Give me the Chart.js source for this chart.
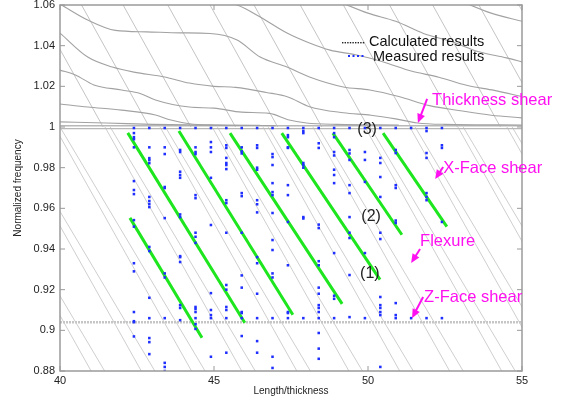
<!DOCTYPE html>
<html>
<head>
<meta charset="utf-8">
<script src="https://cdn.jsdelivr.net/npm/chart.js@4.4.1/dist/chart.umd.min.js"></script>
<style>
  html, body { margin: 0; padding: 0; background: #fff; }
  #wrap { width: 572px; height: 405px; }
</style>
</head>
<body>
<div id="wrap"><canvas id="freqChart" width="572" height="405"></canvas></div>
<script>
// Measured results: one column of points per length/thickness ratio
var measuredX = [42.4, 42.9, 43.4, 43.9, 44.4, 44.9, 45.4, 45.9, 46.4, 46.9, 47.4,
                 47.9, 48.4, 48.9, 49.4, 49.9, 50.4, 50.9, 51.4, 51.9, 52.4];
var measuredY = [
    [0.9995, 0.997, 0.995, 0.994, 0.990, 0.9734, 0.969, 0.967, 0.9542, 0.951, 0.933, 0.929, 0.909, 0.9045, 0.904, 0.897],
    [0.9995, 0.990, 0.9847, 0.9837, 0.9822, 0.9656, 0.9636, 0.9621, 0.9606, 0.941, 0.939, 0.916, 0.906, 0.8962, 0.8942, 0.8883],
    [0.9995, 0.990, 0.9867, 0.9705, 0.970, 0.9552, 0.928, 0.926, 0.906, 0.884, 0.882, 0.880],
    [0.9995, 0.9887, 0.9877, 0.978, 0.9764, 0.975, 0.957, 0.9557, 0.9365, 0.936, 0.9336, 0.9124, 0.911, 0.905],
    [0.9995, 0.990, 0.9877, 0.9867, 0.9665, 0.965, 0.948, 0.946, 0.943, 0.9115, 0.9105, 0.909, 0.906, 0.903, 0.9007],
    [0.9995, 0.9926, 0.990, 0.9877, 0.975, 0.9518, 0.9183, 0.910, 0.9075, 0.906, 0.887],
    [0.9995, 0.991, 0.9897, 0.9848, 0.9823, 0.9813, 0.9793, 0.964, 0.9626, 0.948, 0.9223, 0.920, 0.9115, 0.910, 0.906, 0.889],
    [0.9995, 0.990, 0.988, 0.987, 0.9675, 0.966, 0.948, 0.927, 0.921, 0.909, 0.9085, 0.906, 0.8972],
    [0.9995, 0.991, 0.9897, 0.980, 0.979, 0.964, 0.962, 0.958, 0.936, 0.933, 0.918, 0.906, 0.8947, 0.889],
    [0.9995, 0.9867, 0.9852, 0.9813, 0.9724, 0.968, 0.9665, 0.9577, 0.9444, 0.9395, 0.928, 0.926, 0.906, 0.887, 0.8815],
    [0.9995, 0.996, 0.995, 0.990, 0.9897, 0.9714, 0.9665, 0.9533, 0.932, 0.909, 0.9085, 0.906],
    [0.9995, 0.998, 0.997, 0.9823, 0.9813, 0.980, 0.9557, 0.955, 0.906],
    [0.9995, 0.992, 0.9897, 0.952, 0.9503, 0.934, 0.932, 0.921, 0.918, 0.9124, 0.911, 0.909, 0.906, 0.8987, 0.891, 0.886],
    [0.9995, 0.997, 0.995, 0.9877, 0.986, 0.979, 0.9764, 0.9724, 0.938, 0.917, 0.9155, 0.906],
    [0.9995, 0.9887, 0.987, 0.9838, 0.9714, 0.9675, 0.9557, 0.948, 0.9454, 0.9272, 0.9065],
    [0.9995, 0.9877, 0.9838, 0.973, 0.938, 0.906],
    [0.9995, 0.9848, 0.9823, 0.9754, 0.9656, 0.948, 0.9449, 0.9164, 0.9124, 0.911, 0.909, 0.9075, 0.882],
    [0.9995, 0.9887, 0.9872, 0.9714, 0.970, 0.954, 0.9528, 0.9134, 0.9075, 0.906],
    [0.9995, 0.906],
    [0.9995, 0.998, 0.9872, 0.9848, 0.9675, 0.9656, 0.964, 0.906],
    [0.9995, 0.991, 0.9897, 0.9533, 0.906]
];

// Calculated flexure lines below thickness shear: x at y = 1.0 and x at y = 0.88
var flexTopY = 1.0;
var flexBottomY = 0.88;
var flexTopX = [36.57, 36.74, 38.20, 38.37, 39.83, 40.00, 41.46, 41.63, 43.25, 43.42, 44.94, 45.11,
                46.59, 46.76, 48.21, 48.38, 49.90, 50.07, 51.36, 51.53, 52.92, 53.09, 54.51, 54.68];
var flexBottomX = [41.01, 41.45, 42.64, 43.08, 44.27, 44.71, 45.90, 46.34, 47.69, 48.13, 49.38, 49.82,
                   51.03, 51.47, 52.65, 53.09, 54.34, 54.78, 55.80, 56.24, 57.36, 57.80, 58.95, 59.39];

// Steep calculated branches above thickness shear: x at y = 1.06 and x at y = 1.0
var steepTopY = 1.06;
var steepLowY = 1.0;
var steepTopX = [39.2, 40.7, 42.05, 43.5, 44.87, 46.3, 47.8, 49.2, 50.7, 52.1, 53.6, 54.9];
var steepLowX = [41.4, 42.9, 44.25, 45.7, 47.07, 48.5, 50.0, 51.4, 52.9, 54.3, 55.8, 57.1];

// Wavy calculated curves above thickness shear
var curveX = [
    [40, 41.5, 43, 45, 47],
    [40, 40.9, 42.0, 43.1, 43.6, 44.2, 45, 46.5],
    [40, 40.5, 41.1, 42.0, 42.6, 43.1, 44.2, 45.0, 45.9, 46.8, 47.4, 48.0, 49.0, 51.0],
    [40, 40.9, 41.7, 42.4, 43.4, 44.2, 45.0, 45.7, 46.7, 47.4, 48.1, 49.2, 50.1, 50.9, 51.6, 52.5, 55],
    [40.05, 40.9, 41.8, 42.8, 43.9, 44.87, 45.75, 46.5, 47.37, 48.1, 49.2, 50.06, 51.0, 52.0, 53.0, 54.0, 55.0],
    [45.2, 45.75, 46.5, 47.37, 48.1, 48.77, 49.6, 50.5, 51.4, 52.3, 53.2, 54.1, 55],
    [49.0, 50.0, 50.9, 51.8, 52.7, 53.6, 54.5, 55],
    [53.0, 54.0, 55.0]
];
var curveY = [
    [1.0025, 1.002, 1.0013, 1.0009, 1.0007],
    [1.0113, 1.0098, 1.0083, 1.0059, 1.0034, 1.0016, 1.0010, 1.0008],
    [1.028, 1.0256, 1.0207, 1.0182, 1.0165, 1.0133, 1.0098, 1.0093, 1.0073, 1.0067, 1.0036, 1.002, 1.0013, 1.001],
    [1.0462, 1.0344, 1.0295, 1.027, 1.0246, 1.0216, 1.02, 1.0195, 1.017, 1.0148, 1.01, 1.007, 1.0058, 1.004, 1.002, 1.0013, 1.001],
    [1.06, 1.0526, 1.0475, 1.0468, 1.0463, 1.046, 1.0428, 1.0344, 1.0295, 1.0246, 1.0197, 1.0182, 1.015, 1.0105, 1.008, 1.0058, 1.0045],
    [1.0615, 1.06, 1.0541, 1.0462, 1.0413, 1.0378, 1.0355, 1.032, 1.0275, 1.0245, 1.0205, 1.018, 1.015],
    [1.062, 1.056, 1.052, 1.046, 1.042, 1.037, 1.034, 1.032],
    [1.062, 1.056, 1.052]
];

// Thickness shear (double line) and Z-face shear levels
var shearLevels = [1.0006, 0.9992, 0.904];

// Green fitted flexure lines through the measured points
var fitStartX = [42.27, 42.2, 43.86, 45.52, 47.2, 48.86, 50.49];
var fitStartY = [0.9553, 0.9971, 0.998, 0.997, 0.997, 0.997, 0.997];
var fitEndX = [44.61, 46.0, 47.56, 49.16, 50.39, 51.1, 52.56];
var fitEndY = [0.8964, 0.9037, 0.9077, 0.913, 0.9249, 0.947, 0.951];

var FONT = "'Liberation Sans', Arial, sans-serif";

var datasets = [];

// grey calculated lines
for (var i = 0; i < flexTopX.length; i++) {
    datasets.push({
        data: [{x: flexTopX[i], y: flexTopY}, {x: flexBottomX[i], y: flexBottomY}],
        borderColor: "#c2c2c2", borderWidth: 0.8, order: 5
    });
}
for (var i = 0; i < steepTopX.length; i++) {
    datasets.push({
        data: [{x: steepTopX[i], y: steepTopY}, {x: steepLowX[i], y: steepLowY}],
        borderColor: "#bdbdbd", borderWidth: 0.9, order: 5
    });
}
for (var i = 0; i < curveX.length; i++) {
    datasets.push({
        data: curveX[i].map(function (x, j) { return {x: x, y: curveY[i][j]}; }),
        borderColor: "#a2a2a2", borderWidth: 1.1, cubicInterpolationMode: "monotone", order: 4
    });
}
shearLevels.forEach(function (lv, k) {
    datasets.push({
        data: [{x: 40, y: lv}, {x: 55, y: lv}],
        borderColor: k < 2 ? "#b8b8b8" : "#c6c6c6",
        borderWidth: k < 2 ? 1.4 : 2.6,
        borderDash: k < 2 ? [] : [2, 1],
        order: 4
    });
});

// green fits
for (var i = 0; i < fitStartX.length; i++) {
    datasets.push({
        data: [{x: fitStartX[i], y: fitStartY[i]}, {x: fitEndX[i], y: fitEndY[i]}],
        borderColor: "#1ee61e", borderWidth: 3, order: 2
    });
}

// measured dots
var measuredPoints = [];
measuredX.forEach(function (x, i) {
    measuredY[i].forEach(function (y) { measuredPoints.push({x: x, y: y}); });
});
datasets.push({
    data: measuredPoints, showLine: false, pointStyle: "rect",
    pointRadius: 1.8, backgroundColor: "#1f2fff", borderColor: "#1f2fff", borderWidth: 0, order: 1
});

datasets.forEach(function (d) {
    if (d.showLine !== false) { d.showLine = true; d.pointRadius = 0; d.fill = false; }
});

// Frame, inward ticks, legend and annotations drawn on top of the chart area
var framePlugin = {
    id: "frame",
    afterDraw: function (chart) {
        var ctx = chart.ctx, a = chart.chartArea;
        var xs = chart.scales.x, ys = chart.scales.y;
        ctx.save();
        ctx.strokeStyle = "#9a9a9a";
        ctx.lineWidth = 1.5;
        ctx.strokeRect(a.left, a.top, a.right - a.left, a.bottom - a.top);
        ctx.lineWidth = 1;
        ctx.beginPath();
        xs.ticks.forEach(function (t) {
            var px = xs.getPixelForValue(t.value);
            ctx.moveTo(px, a.bottom); ctx.lineTo(px, a.bottom - 5);
            ctx.moveTo(px, a.top); ctx.lineTo(px, a.top + 5);
        });
        ys.ticks.forEach(function (t) {
            var py = ys.getPixelForValue(t.value);
            ctx.moveTo(a.left, py); ctx.lineTo(a.left + 5, py);
            ctx.moveTo(a.right, py); ctx.lineTo(a.right - 5, py);
        });
        ctx.stroke();

        // legend
        var lx = a.right - 180, ly = a.top + 37;
        ctx.fillStyle = "#222";
        for (var k = 0; k < 9; k++) ctx.fillRect(lx + k * 2.6, ly, 1.4, 1.4);
        ctx.fillStyle = "#1f2fff";
        for (var k = 0; k < 4; k++) ctx.fillRect(lx + 6 + k * 4.5, ly + 13, 2, 2);
        ctx.fillStyle = "#111";
        ctx.font = "14.5px " + FONT;
        ctx.textBaseline = "middle";
        ctx.textAlign = "left";
        ctx.fillText("Calculated results", lx + 27, ly);
        ctx.fillText("Measured results", lx + 31, ly + 15);

        // mode labels
        var notes = [
            {t: "Thickness shear", x: 52.08, y: 1.0133, fx: 51.92, fy: 1.0138, tx: 51.62, ty: 1.002},
            {t: "X-Face shear", x: 52.44, y: 0.9798, fx: 52.44, fy: 0.9803, tx: 52.18, ty: 0.9744},
            {t: "Flexure", x: 51.69, y: 0.9439, fx: 51.69, fy: 0.940, tx: 51.40, ty: 0.9331},
            {t: "Z-Face shear", x: 51.82, y: 0.9164, fx: 51.79, fy: 0.9164, tx: 51.43, ty: 0.906}
        ];
        ctx.font = "16.5px " + FONT;
        notes.forEach(function (n) {
            var x1 = xs.getPixelForValue(n.fx), y1 = ys.getPixelForValue(n.fy);
            var x2 = xs.getPixelForValue(n.tx), y2 = ys.getPixelForValue(n.ty);
            var ang = Math.atan2(y2 - y1, x2 - x1);
            ctx.strokeStyle = "#ff10f0";
            ctx.fillStyle = "#ff10f0";
            ctx.lineWidth = 2;
            ctx.beginPath();
            ctx.moveTo(x1, y1);
            ctx.lineTo(x2 - 6 * Math.cos(ang), y2 - 6 * Math.sin(ang));
            ctx.stroke();
            ctx.beginPath();
            ctx.moveTo(x2, y2);
            ctx.lineTo(x2 - 9 * Math.cos(ang) + 4 * Math.sin(ang), y2 - 9 * Math.sin(ang) - 4 * Math.cos(ang));
            ctx.lineTo(x2 - 9 * Math.cos(ang) - 4 * Math.sin(ang), y2 - 9 * Math.sin(ang) + 4 * Math.cos(ang));
            ctx.closePath();
            ctx.fill();
            ctx.fillText(n.t, xs.getPixelForValue(n.x), ys.getPixelForValue(n.y));
        });

        // branch numbers
        var marks = [{t: "(3)", x: 49.97, y: 0.9985}, {t: "(2)", x: 50.1, y: 0.9557}, {t: "(1)", x: 50.06, y: 0.9277}];
        ctx.fillStyle = "#222";
        ctx.textAlign = "center";
        ctx.font = "16px " + FONT;
        marks.forEach(function (m) {
            ctx.fillText(m.t, xs.getPixelForValue(m.x), ys.getPixelForValue(m.y));
        });
        ctx.restore();
    }
};

var ctx = document.getElementById("freqChart").getContext("2d");
var freqChart = new Chart(ctx, {
    type: "scatter",
    data: { datasets: datasets },
    plugins: [framePlugin],
    options: {
        responsive: false,
        animation: false,
        layout: { padding: { left: 8, top: 5, right: 50, bottom: 4 } },
        plugins: {
            legend: { display: false },
            tooltip: { enabled: false }
        },
        scales: {
            x: {
                type: "linear", min: 40, max: 55,
                afterFit: function (s) { s.height = 30; s.paddingLeft = 0; s.paddingRight = 0; },
                grid: { drawOnChartArea: false, drawTicks: false },
                border: { display: false },
                ticks: { stepSize: 5, padding: 3, color: "#222", font: { family: FONT, size: 11 } },
                title: { display: true, text: "Length/thickness", color: "#222", font: { family: FONT, size: 10 } }
            },
            y: {
                type: "linear", min: 0.88, max: 1.06,
                afterFit: function (s) { s.width = 52; s.paddingTop = 0; s.paddingBottom = 0; },
                grid: { drawOnChartArea: false, drawTicks: false },
                border: { display: false },
                ticks: {
                    stepSize: 0.02, padding: 5, color: "#222", font: { family: FONT, size: 11 },
                    callback: function (v) { return String(parseFloat(v.toFixed(2))); }
                },
                title: { display: true, text: "Normalized frequency", color: "#222", font: { family: FONT, size: 10 } }
            }
        }
    }
});
</script>
</body>
</html>
